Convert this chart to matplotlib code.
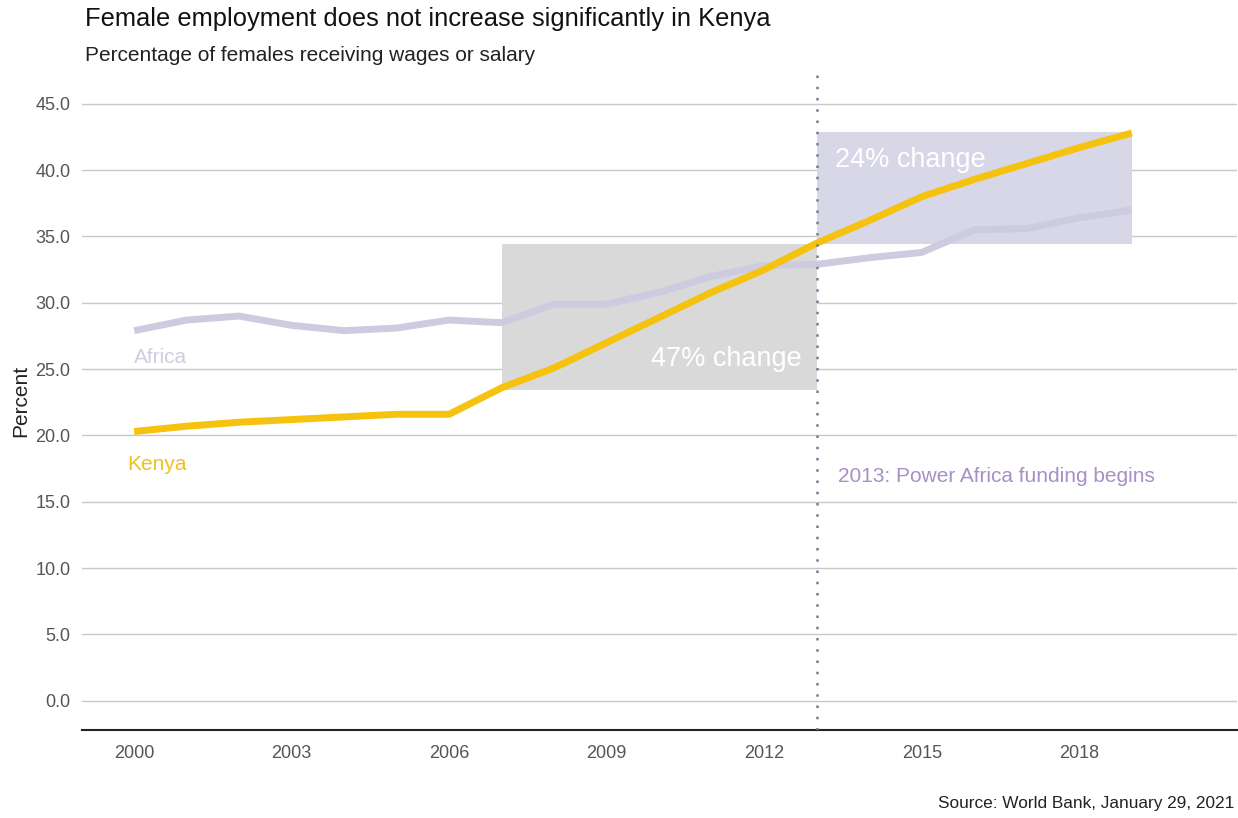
import matplotlib
matplotlib.use("Agg")
import matplotlib.pyplot as plt
from matplotlib.patches import Rectangle

plt.rcParams['font.family'] = ['Liberation Sans', 'DejaVu Sans']

years = list(range(2000, 2020))
africa = [27.9, 28.7, 29.0, 28.3, 27.9, 28.1, 28.7, 28.5, 29.9, 29.9,
          30.8, 32.0, 32.8, 32.9, 33.4, 33.8, 35.5, 35.6, 36.4, 37.0]
kenya = [20.3, 20.7, 21.0, 21.2, 21.4, 21.6, 21.6, 23.6, 25.1, 27.0,
         28.9, 30.8, 32.5, 34.5, 36.2, 38.0, 39.3, 40.5, 41.7, 42.8]
xticks = [2000, 2003, 2006, 2009, 2012, 2015, 2018]
yticks = [0, 5, 10, 15, 20, 25, 30, 35, 40, 45]
event_year = 2013
box1 = (2007, 2013, 23.4, 34.4)
box2 = (2013, 2019, 34.4, 42.9)

fig = plt.figure(figsize=(12.38, 8.18), dpi=100)
ax = fig.add_axes([0.066, 0.1076, 0.933, 0.8044])

ax.set_xlim(1999.0, 2021.0)
ax.set_ylim(-2.2, 47.4)

for y in yticks:
    ax.axhline(y, color='#c8c8c8', lw=1.0, zorder=0)

ax.add_patch(Rectangle((box1[0], box1[2]), box1[1]-box1[0], box1[3]-box1[2],
                       facecolor='#d9d9d9', edgecolor='none', zorder=1))
ax.add_patch(Rectangle((box2[0], box2[2]), box2[1]-box2[0], box2[3]-box2[2],
                       facecolor='#d8d7e7', edgecolor='none', zorder=1))

ax.plot(years, africa, color='#cccbe0', lw=5, zorder=2, solid_capstyle='butt')
ax.plot(years, kenya, color='#f5c20e', lw=5, zorder=3, solid_capstyle='butt')

ax.axvline(event_year, color='#7c7a92', lw=1.8, ls=(0, (1, 3.5)), zorder=4)

ax.text(2012.72, 25.8, '47% change', color='white', fontsize=19.5, ha='right', va='center', zorder=5)
ax.text(2013.35, 40.8, '24% change', color='white', fontsize=19.5, ha='left', va='center', zorder=5)
ax.text(2000.0, 25.9, 'Africa', color='#cfcde0', fontsize=15, ha='left', va='center')
ax.text(1999.87, 17.8, 'Kenya', color='#f0c020', fontsize=15, ha='left', va='center')
ax.text(2013.4, 16.9, '2013: Power Africa funding begins', color='#a690c4', fontsize=15,
        ha='left', va='center')

ax.set_xticks(xticks)
ax.set_yticks(yticks)
ax.set_yticklabels([f'{v:.1f}' for v in yticks])
ax.tick_params(axis='both', length=0, labelsize=13, labelcolor='#555555')
ax.tick_params(axis='x', pad=11)
ax.tick_params(axis='y', pad=8)
for s in ['top', 'right', 'left']:
    ax.spines[s].set_visible(False)
ax.spines['bottom'].set_color('#222222')
ax.spines['bottom'].set_linewidth(1.5)
ax.set_ylabel('Percent', fontsize=15, color='#222222', labelpad=4)

fig.text(0.0687, 0.977, 'Female employment does not increase significantly in Kenya',
         fontsize=18.4, color='#111111', ha='left', va='center')
fig.text(0.0687, 0.932, 'Percentage of females receiving wages or salary',
         fontsize=15, color='#222222', ha='left', va='center')
fig.text(0.997, 0.018, 'Source: World Bank, January 29, 2021', fontsize=12.4,
         color='#222222', ha='right', va='center')

fig.savefig('out.png', dpi=100)
